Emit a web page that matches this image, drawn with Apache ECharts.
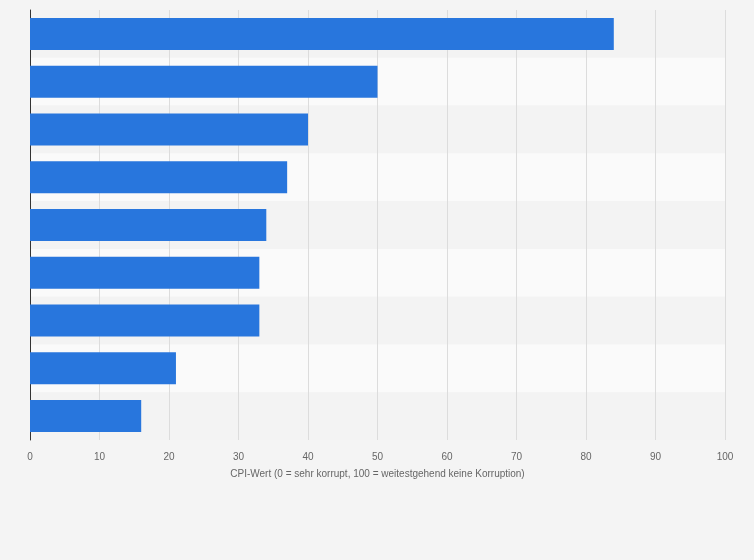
<!DOCTYPE html>
<html><head><meta charset="utf-8">
<script src="https://cdn.jsdelivr.net/npm/echarts@6/dist/echarts.min.js"></script>
<style>html,body{margin:0;padding:0;background:#f4f4f4}#c{width:754px;height:560px}</style>
</head><body><div id="c"></div>
<script>
const categories = ['1','2','3','4','5','6','7','8','9'];
const values = [84, 50, 40, 37, 34, 33, 33, 21, 16];
const xTicks = [0,10,20,30,40,50,60,70,80,90,100];
const chart = echarts.init(document.getElementById('c'));
chart.setOption({
  backgroundColor: '#f4f4f4',
  animation: false,
  grid: {left: 30, right: 29, top: 10, bottom: 120, containLabel: false},
  xAxis: {
    type: 'value', min: 0, max: 100, interval: 10,
    name: 'CPI-Wert (0 = sehr korrupt, 100 = weitestgehend keine Korruption)',
    nameLocation: 'middle', nameGap: 29,
    nameTextStyle: {color: '#666', fontSize: 10, fontFamily: 'Liberation Sans'},
    axisLine: {show: false}, axisTick: {show: false},
    axisLabel: {color: '#666', fontSize: 10, fontFamily: 'Liberation Sans', margin: 12},
    splitLine: {show: true, lineStyle: {color: '#dcdcdc', width: 1}}
  },
  yAxis: {
    type: 'category', data: categories, inverse: true,
    axisLine: {show: true, lineStyle: {color: '#333', width: 1}},
    axisTick: {show: false}, axisLabel: {show: false},
    splitArea: {show: true, areaStyle: {color: ['#f3f3f3', '#fafafa']}}
  },
  series: [{
    type: 'bar', data: values, barWidth: 32,
    itemStyle: {color: '#2876dd'}
  }]
});
</script></body></html>
